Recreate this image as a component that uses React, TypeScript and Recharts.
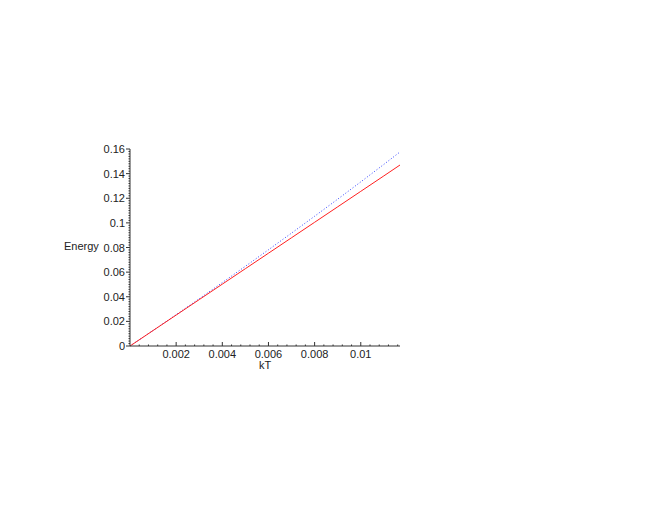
import React from "react"
import { LineChart, Line, XAxis, YAxis } from "recharts"

// values
const KT = [0, 0.001, 0.002, 0.003, 0.004, 0.005, 0.006, 0.007, 0.008, 0.009, 0.01, 0.011, 0.0117]
const RED = [0, 0.01256, 0.02512, 0.03768, 0.05024, 0.0628, 0.07536, 0.08792, 0.10048, 0.11304, 0.1256, 0.13816, 0.147]
const BLUE = [0, 0.01264, 0.02545, 0.0384, 0.0515, 0.06475, 0.07815, 0.0917, 0.1054, 0.11925, 0.1333, 0.1475, 0.1576]

const X_MAJOR = [0.002, 0.004, 0.006, 0.008, 0.01]
const X_LABELS = ["0.002", "0.004", "0.006", "0.008", "0.01"]
const Y_MAJOR = [0, 0.02, 0.04, 0.06, 0.08, 0.1, 0.12, 0.14, 0.16]
const Y_LABELS = ["0", "0.02", "0.04", "0.06", "0.08", "0.1", "0.12", "0.14", "0.16"]

const xTicks: number[] = []
for (let i = 1; i <= 29; i++) xTicks.push(+(i * 0.0004).toFixed(4))
const yTicks: number[] = []
for (let i = 0; i <= 80; i++) yTicks.push(+(i * 0.002).toFixed(3))

const data = KT.map((k, i) => ({ kT: k, red: RED[i], blue: BLUE[i] }))

const FONT = "'Liberation Sans', Arial, sans-serif"

const nearMajor = (v: number, list: number[]) => list.findIndex((m) => Math.abs(m - v) < 1e-6)

function XTick(props: any) {
  const { x, payload } = props
  const y = 346
  const idx = nearMajor(payload.value, X_MAJOR)
  if (idx < 0) {
    return <line x1={x} x2={x} y1={y} y2={y - 1.5} stroke="#333" />
  }
  return (
    <g>
      <line x1={x} x2={x} y1={y} y2={y - 4} stroke="#333" />
      <text x={x} y={y + 12} textAnchor="middle" fontSize={11} fontFamily={FONT} fill="#222">
        {X_LABELS[idx]}
      </text>
    </g>
  )
}

function YTick(props: any) {
  const { y, payload } = props
  const x = 130
  const idx = nearMajor(payload.value, Y_MAJOR)
  if (idx < 0) {
    return <line x1={x} x2={x - 1.5} y1={y} y2={y} stroke="#333" />
  }
  return (
    <g>
      <line x1={x} x2={x - 4} y1={y} y2={y} stroke="#333" />
      <text x={x - 5} y={y + 4} textAnchor="end" fontSize={11} fontFamily={FONT} fill="#222">
        {Y_LABELS[idx]}
      </text>
    </g>
  )
}

export default function App() {
  return (
    <div style={{ position: "absolute", left: 0, top: 0, width: 664, height: 513, background: "#fff" }}>
      <LineChart width={664} height={513} data={data} margin={{ top: 149, right: 264, bottom: 147, left: 110 }}>
        <XAxis
          type="number"
          dataKey="kT"
          domain={[0, 0.0117]}
          ticks={xTicks}
          height={20}
          tick={<XTick />}
          tickLine={false}
          axisLine={{ stroke: "#333" }}
          interval={0}
          allowDataOverflow
        />
        <YAxis
          type="number"
          domain={[0, 0.16]}
          ticks={yTicks}
          width={20}
          tick={<YTick />}
          tickLine={false}
          axisLine={{ stroke: "#333" }}
          interval={0}
        />
        <Line
          type="linear"
          dataKey="blue"
          stroke="#3344ff"
          strokeWidth={1}
          strokeDasharray="1 2"
          dot={false}
          isAnimationActive={false}
        />
        <Line type="linear" dataKey="red" stroke="#ff2020" strokeWidth={1} dot={false} isAnimationActive={false} />
        <text x={64} y={250} fontSize={11} fontFamily={FONT} fill="#222">Energy</text>
        <text x={259} y={369} fontSize={11} fontFamily={FONT} fill="#222">kT</text>
      </LineChart>
    </div>
  )
}
